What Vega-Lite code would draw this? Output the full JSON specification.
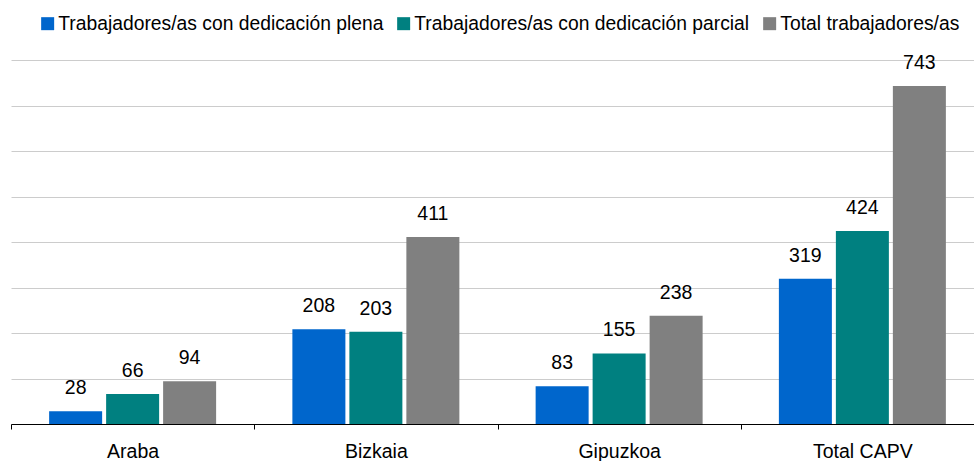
{
  "$schema": "https://vega.github.io/schema/vega-lite/v6.json",
  "width": 973,
  "height": 364,
  "autosize": {"type": "none"},
  "padding": {"left": 11, "top": 60, "right": 0, "bottom": 37},
  "background": "white",
  "config": {"font": "Liberation Sans", "view": {"stroke": null}},
  "data": {
    "values": [
      {"region": "Araba", "serie": "Trabajadores/as con dedicación plena", "value": 28},
      {"region": "Araba", "serie": "Trabajadores/as con dedicación parcial", "value": 66},
      {"region": "Araba", "serie": "Total trabajadores/as", "value": 94},
      {"region": "Bizkaia", "serie": "Trabajadores/as con dedicación plena", "value": 208},
      {"region": "Bizkaia", "serie": "Trabajadores/as con dedicación parcial", "value": 203},
      {"region": "Bizkaia", "serie": "Total trabajadores/as", "value": 411},
      {"region": "Gipuzkoa", "serie": "Trabajadores/as con dedicación plena", "value": 83},
      {"region": "Gipuzkoa", "serie": "Trabajadores/as con dedicación parcial", "value": 155},
      {"region": "Gipuzkoa", "serie": "Total trabajadores/as", "value": 238},
      {"region": "Total CAPV", "serie": "Trabajadores/as con dedicación plena", "value": 319},
      {"region": "Total CAPV", "serie": "Trabajadores/as con dedicación parcial", "value": 424},
      {"region": "Total CAPV", "serie": "Total trabajadores/as", "value": 743}
    ]
  },
  "encoding": {
    "x": {
      "field": "region",
      "type": "nominal",
      "sort": ["Araba", "Bizkaia", "Gipuzkoa", "Total CAPV"],
      "scale": {"paddingInner": 0, "paddingOuter": 0},
      "axis": {
        "title": null,
        "labelAngle": 0,
        "labelFontSize": 19.5,
        "labelColor": "black",
        "tickBand": "extent",
        "tickColor": "black",
        "tickSize": 5,
        "domainColor": "black",
        "labelPadding": 13
      }
    },
    "xOffset": {
      "field": "serie",
      "sort": ["Trabajadores/as con dedicación plena", "Trabajadores/as con dedicación parcial", "Total trabajadores/as"],
      "scale": {"paddingInner": 0.07, "paddingOuter": 0.669}
    },
    "y": {
      "field": "value",
      "type": "quantitative",
      "scale": {"domain": [0, 800]},
      "axis": {
        "title": null,
        "labels": false,
        "ticks": false,
        "domain": false,
        "tickCount": 8,
        "gridColor": "#cccccc"
      }
    }
  },
  "layer": [
    {
      "mark": {"type": "bar"},
      "encoding": {
        "color": {
          "field": "serie",
          "type": "nominal",
          "sort": ["Trabajadores/as con dedicación plena", "Trabajadores/as con dedicación parcial", "Total trabajadores/as"],
          "scale": {"range": ["#0066cc", "#008080", "#808080"]},
          "legend": {
            "title": null,
            "orient": "none",
            "direction": "horizontal",
            "legendX": 27,
            "legendY": -46,
            "symbolType": "square",
            "symbolSize": 169,
            "symbolStrokeWidth": 0,
            "symbolOpacity": 1,
            "labelFontSize": 19.3,
            "labelLimit": 0,
            "labelColor": "black",
            "labelOffset": 1,
            "columnSpacing": 12,
            "symbolOffset": 0
          }
        }
      }
    },
    {
      "mark": {"type": "text", "baseline": "bottom", "dy": -13, "fontSize": 19.5, "color": "black"},
      "encoding": {"text": {"field": "value", "type": "quantitative"}}
    }
  ]
}
